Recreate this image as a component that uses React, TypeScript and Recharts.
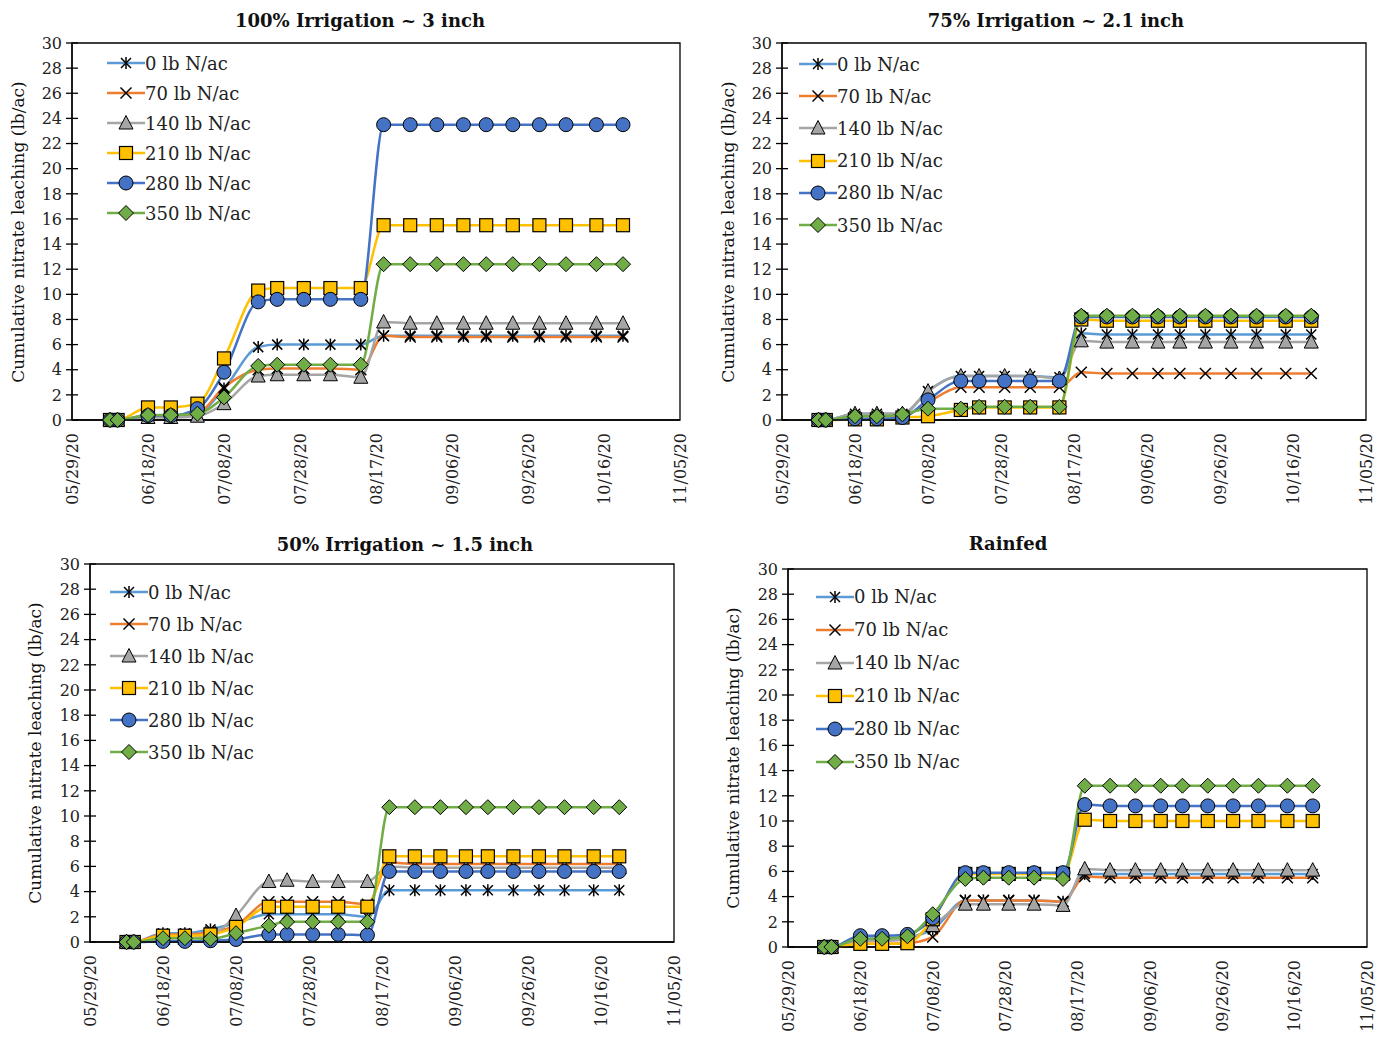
import { Line, LineChart, ReferenceArea, XAxis, YAxis } from 'recharts';

// sampling days, counted from 05/29/20
const DAYS = [10, 12, 20, 26, 33, 40, 49, 54, 61, 68, 76, 82, 89, 96, 103, 109, 116, 123, 130, 138, 145];
const X_TICKS = [0, 20, 40, 60, 80, 100, 120, 140, 160];
const Y_TICKS = [0, 2, 4, 6, 8, 10, 12, 14, 16, 18, 20, 22, 24, 26, 28, 30];

// 100% irrigation
const IRR100_N0 = [0, 0, 0.3, 0.3, 0.5, 2.5, 5.8, 6.0, 6.0, 6.0, 6.0, 6.7, 6.7, 6.7, 6.7, 6.7, 6.7, 6.7, 6.7, 6.7, 6.7];
const IRR100_N70 = [0, 0, 0.25, 0.25, 0.5, 2.6, 4.0, 4.1, 4.1, 4.1, 4.0, 6.7, 6.6, 6.6, 6.6, 6.6, 6.6, 6.6, 6.6, 6.6, 6.6];
const IRR100_N140 = [0, 0, 0.2, 0.2, 0.3, 1.3, 3.5, 3.6, 3.6, 3.6, 3.4, 7.8, 7.7, 7.7, 7.7, 7.7, 7.7, 7.7, 7.7, 7.7, 7.7];
const IRR100_N210 = [0, 0, 1.0, 1.0, 1.3, 4.9, 10.3, 10.5, 10.5, 10.5, 10.5, 15.5, 15.5, 15.5, 15.5, 15.5, 15.5, 15.5, 15.5, 15.5, 15.5];
const IRR100_N280 = [0, 0, 0.35, 0.35, 0.9, 3.8, 9.4, 9.6, 9.6, 9.6, 9.6, 23.5, 23.5, 23.5, 23.5, 23.5, 23.5, 23.5, 23.5, 23.5, 23.5];
const IRR100_N350 = [0, 0, 0.4, 0.4, 0.5, 1.8, 4.3, 4.4, 4.4, 4.4, 4.4, 12.4, 12.4, 12.4, 12.4, 12.4, 12.4, 12.4, 12.4, 12.4, 12.4];

// 75% irrigation
const IRR75_N0 = [0, 0, 0.5, 0.5, 0.5, 2.3, 3.5, 3.5, 3.5, 3.5, 3.4, 6.9, 6.8, 6.8, 6.8, 6.8, 6.8, 6.8, 6.8, 6.8, 6.8];
const IRR75_N70 = [0, 0, 0.3, 0.3, 0.3, 1.4, 2.6, 2.6, 2.6, 2.6, 2.6, 3.8, 3.7, 3.7, 3.7, 3.7, 3.7, 3.7, 3.7, 3.7, 3.7];
const IRR75_N140 = [0, 0, 0.5, 0.5, 0.5, 2.3, 3.5, 3.5, 3.5, 3.5, 3.3, 6.3, 6.2, 6.2, 6.2, 6.2, 6.2, 6.2, 6.2, 6.2, 6.2];
const IRR75_N210 = [0, 0, 0.05, 0.05, 0.2, 0.3, 0.8, 1.0, 1.0, 1.0, 1.0, 8.0, 7.9, 7.9, 7.9, 7.9, 7.9, 7.9, 7.9, 7.9, 7.9];
const IRR75_N280 = [0, 0, 0.1, 0.1, 0.2, 1.6, 3.1, 3.1, 3.1, 3.1, 3.1, 8.2, 8.2, 8.2, 8.2, 8.2, 8.2, 8.2, 8.2, 8.2, 8.2];
const IRR75_N350 = [0, 0, 0.3, 0.3, 0.45, 0.9, 0.9, 1.05, 1.05, 1.05, 1.05, 8.3, 8.3, 8.3, 8.3, 8.3, 8.3, 8.3, 8.3, 8.3, 8.3];

// 50% irrigation
const IRR50_N0 = [0, 0, 0.7, 0.7, 1.0, 1.5, 2.2, 2.2, 2.2, 2.2, 2.0, 4.1, 4.1, 4.1, 4.1, 4.1, 4.1, 4.1, 4.1, 4.1, 4.1];
const IRR50_N70 = [0, 0, 0.6, 0.6, 0.8, 1.3, 3.2, 3.2, 3.2, 3.2, 3.0, 6.3, 6.2, 6.2, 6.2, 6.2, 6.2, 6.2, 6.2, 6.2, 6.2];
const IRR50_N140 = [0, 0, 0.3, 0.3, 0.5, 2.1, 4.8, 4.9, 4.8, 4.8, 4.8, 6.0, 5.9, 5.9, 5.9, 5.9, 5.9, 5.9, 5.9, 5.9, 5.9];
const IRR50_N210 = [0, 0, 0.5, 0.5, 0.6, 1.2, 2.8, 2.8, 2.8, 2.8, 2.8, 6.8, 6.8, 6.8, 6.8, 6.8, 6.8, 6.8, 6.8, 6.8, 6.8];
const IRR50_N280 = [0, 0, 0.05, 0.05, 0.1, 0.2, 0.6, 0.6, 0.6, 0.6, 0.55, 5.6, 5.6, 5.6, 5.6, 5.6, 5.6, 5.6, 5.6, 5.6, 5.6];
const IRR50_N350 = [0, 0, 0.3, 0.3, 0.25, 0.7, 1.3, 1.6, 1.6, 1.6, 1.6, 10.7, 10.7, 10.7, 10.7, 10.7, 10.7, 10.7, 10.7, 10.7, 10.7];

// rainfed
const RAIN_N0 = [0, 0, 0.65, 0.7, 0.8, 1.4, 3.7, 3.7, 3.7, 3.7, 3.6, 5.8, 5.8, 5.8, 5.8, 5.8, 5.8, 5.8, 5.8, 5.8, 5.8];
const RAIN_N70 = [0, 0, 0.25, 0.25, 0.3, 0.8, 3.7, 3.7, 3.7, 3.7, 3.6, 5.6, 5.5, 5.5, 5.5, 5.5, 5.5, 5.5, 5.5, 5.5, 5.5];
const RAIN_N140 = [0, 0, 0.5, 0.5, 0.6, 1.7, 3.4, 3.4, 3.4, 3.4, 3.3, 6.2, 6.1, 6.1, 6.1, 6.1, 6.1, 6.1, 6.1, 6.1, 6.1];
const RAIN_N210 = [0, 0, 0.25, 0.25, 0.3, 2.2, 5.8, 5.8, 5.8, 5.8, 5.8, 10.1, 10.0, 10.0, 10.0, 10.0, 10.0, 10.0, 10.0, 10.0, 10.0];
const RAIN_N280 = [0, 0, 0.9, 0.9, 1.0, 2.3, 5.9, 5.9, 5.9, 5.9, 5.9, 11.3, 11.2, 11.2, 11.2, 11.2, 11.2, 11.2, 11.2, 11.2, 11.2];
const RAIN_N350 = [0, 0, 0.65, 0.65, 0.85, 2.6, 5.4, 5.5, 5.5, 5.5, 5.4, 12.8, 12.8, 12.8, 12.8, 12.8, 12.8, 12.8, 12.8, 12.8, 12.8];

const FONT = '"DejaVu Serif", "Liberation Serif", serif';
const START = Date.UTC(2020, 4, 29);

type Shape = 'asterisk' | 'x' | 'triangle' | 'square' | 'circle' | 'diamond';

const SERIES: Array<{ key: string; label: string; color: string; shape: Shape }> = [
  { key: 'n0', label: '0 lb N/ac', color: '#5B9BD5', shape: 'asterisk' },
  { key: 'n70', label: '70 lb N/ac', color: '#ED7D31', shape: 'x' },
  { key: 'n140', label: '140 lb N/ac', color: '#A5A5A5', shape: 'triangle' },
  { key: 'n210', label: '210 lb N/ac', color: '#FFC000', shape: 'square' },
  { key: 'n280', label: '280 lb N/ac', color: '#4472C4', shape: 'circle' },
  { key: 'n350', label: '350 lb N/ac', color: '#70AD47', shape: 'diamond' },
];

const PANELS = [
  {
    title: '100% Irrigation ~ 3 inch',
    values: [IRR100_N0, IRR100_N70, IRR100_N140, IRR100_N210, IRR100_N280, IRR100_N350],
    box: { left: 0, top: 0, width: 700, height: 530 },
    margin: { top: 43, right: 20, left: 12, bottom: 10 },
    xHeight: 100,
    titleAt: { x: 360, y: 20 },
    yLabelAt: { x: 18, y: 232 },
    legend: { left: 107, top: 48, row: 30 },
  },
  {
    title: '75% Irrigation ~ 2.1 inch',
    values: [IRR75_N0, IRR75_N70, IRR75_N140, IRR75_N210, IRR75_N280, IRR75_N350],
    box: { left: 700, top: 0, width: 690, height: 530 },
    margin: { top: 43, right: 24, left: 22, bottom: 10 },
    xHeight: 100,
    titleAt: { x: 1056, y: 20 },
    yLabelAt: { x: 728, y: 232 },
    legend: { left: 799, top: 48, row: 32.2 },
  },
  {
    title: '50% Irrigation ~ 1.5 inch',
    values: [IRR50_N0, IRR50_N70, IRR50_N140, IRR50_N210, IRR50_N280, IRR50_N350],
    box: { left: 0, top: 520, width: 690, height: 530 },
    margin: { top: 44, right: 16, left: 30, bottom: 8 },
    xHeight: 100,
    titleAt: { x: 405, y: 544 },
    yLabelAt: { x: 35, y: 753 },
    legend: { left: 110, top: 576, row: 32 },
  },
  {
    title: 'Rainfed',
    values: [RAIN_N0, RAIN_N70, RAIN_N140, RAIN_N210, RAIN_N280, RAIN_N350],
    box: { left: 700, top: 520, width: 692, height: 525 },
    margin: { top: 49, right: 25, left: 28, bottom: 0 },
    xHeight: 98,
    titleAt: { x: 1008, y: 543 },
    yLabelAt: { x: 733, y: 758 },
    legend: { left: 816, top: 580, row: 33 },
  },
];

const fmtDate = (d: number) => {
  const dt = new Date(START + d * 86400000);
  const mm = String(dt.getUTCMonth() + 1).padStart(2, '0');
  const dd = String(dt.getUTCDate()).padStart(2, '0');
  return `${mm}/${dd}/20`;
};

function Marker({ shape, cx, cy, color }: { shape: Shape; cx: number; cy: number; color: string }) {
  const s = 6.5;
  switch (shape) {
    case 'asterisk':
      return (
        <g stroke="#000" strokeWidth={1.5}>
          <line x1={cx - 5} y1={cy - 5} x2={cx + 5} y2={cy + 5} />
          <line x1={cx - 5} y1={cy + 5} x2={cx + 5} y2={cy - 5} />
          <line x1={cx} y1={cy - 6} x2={cx} y2={cy + 6} />
        </g>
      );
    case 'x':
      return (
        <g stroke="#000" strokeWidth={1.5}>
          <line x1={cx - 5.5} y1={cy - 5.5} x2={cx + 5.5} y2={cy + 5.5} />
          <line x1={cx - 5.5} y1={cy + 5.5} x2={cx + 5.5} y2={cy - 5.5} />
        </g>
      );
    case 'triangle':
      return (
        <polygon
          points={`${cx},${cy - 7.5} ${cx - 7},${cy + 6} ${cx + 7},${cy + 6}`}
          fill={color}
          stroke="#000"
          strokeWidth={1}
        />
      );
    case 'square':
      return <rect x={cx - s} y={cy - s} width={s * 2} height={s * 2} fill={color} stroke="#000" strokeWidth={1.2} />;
    case 'circle':
      return <circle cx={cx} cy={cy} r={7} fill={color} stroke="#000" strokeWidth={1} />;
    default:
      return (
        <polygon
          points={`${cx},${cy - 7.5} ${cx + 7.5},${cy} ${cx},${cy + 7.5} ${cx - 7.5},${cy}`}
          fill={color}
          stroke="#000"
          strokeWidth={1}
        />
      );
  }
}

const YTick = ({ x, y, payload }: any) => (
  <g>
    <line x1={x - 6} x2={x + 6} y1={y} y2={y} stroke="#000" strokeWidth={1.3} />
    <text x={x - 10} y={y} dy="0.36em" textAnchor="end" fontSize={16} fontFamily={FONT} fill="#222">
      {payload.value}
    </text>
  </g>
);

const XTick = ({ x, y, payload }: any) => (
  <text
    transform={`translate(${x},${y + 13}) rotate(-90)`}
    dy="0.36em"
    textAnchor="end"
    fontSize={16}
    fontFamily={FONT}
    fill="#222"
  >
    {fmtDate(payload.value)}
  </text>
);

function Panel({ panel }: { panel: (typeof PANELS)[number] }) {
  const data = DAYS.map((day, i) => {
    const row: Record<string, number> = { day };
    SERIES.forEach((s, j) => {
      row[s.key] = panel.values[j][i];
    });
    return row;
  });

  return (
    <>
      <div style={{ position: 'absolute', left: panel.box.left, top: panel.box.top }}>
        <LineChart width={panel.box.width} height={panel.box.height} data={data} margin={panel.margin}>
          <XAxis
            dataKey="day"
            type="number"
            domain={[0, 160]}
            ticks={X_TICKS}
            interval={0}
            height={panel.xHeight}
            tickSize={0}
            tickMargin={0}
            tickLine={false}
            tick={<XTick />}
            axisLine={{ stroke: '#000', strokeWidth: 1.3 }}
          />
          <YAxis
            type="number"
            domain={[0, 30]}
            ticks={Y_TICKS}
            interval={0}
            width={60}
            tickSize={0}
            tickMargin={0}
            tickLine={false}
            tick={<YTick />}
            axisLine={{ stroke: '#000', strokeWidth: 1.3 }}
          />
          {/* plot-area frame */}
          <ReferenceArea x1={0} x2={160} y1={0} y2={30} fill="none" fillOpacity={0} stroke="#000" strokeWidth={1.3} />
          {SERIES.map((s) => (
            <Line
              key={s.key}
              type="monotone"
              dataKey={s.key}
              stroke={s.color}
              strokeWidth={2.5}
              isAnimationActive={false}
              activeDot={false}
              dot={(p: any) => (
                <Marker key={`${s.key}-${p.index}`} shape={s.shape} cx={p.cx} cy={p.cy} color={s.color} />
              )}
            />
          ))}
        </LineChart>
      </div>
      <div
        style={{
          position: 'absolute',
          left: panel.titleAt.x,
          top: panel.titleAt.y,
          transform: 'translate(-50%, -50%)',
          fontFamily: FONT,
          fontWeight: 'bold',
          fontSize: 18,
          whiteSpace: 'nowrap',
          color: '#111',
        }}
      >
        {panel.title}
      </div>
      <div
        style={{
          position: 'absolute',
          left: panel.yLabelAt.x,
          top: panel.yLabelAt.y,
          transform: 'translate(-50%, -50%) rotate(-90deg)',
          fontFamily: FONT,
          fontSize: 17,
          whiteSpace: 'nowrap',
          color: '#111',
        }}
      >
        Cumulative nitrate leaching (lb/ac)
      </div>
      <div style={{ position: 'absolute', left: panel.legend.left, top: panel.legend.top }}>
        {SERIES.map((s) => (
          <div
            key={s.key}
            style={{ display: 'flex', alignItems: 'center', height: panel.legend.row, fontFamily: FONT, fontSize: 18, color: '#222' }}
          >
            <svg width={38} height={20} style={{ display: 'block' }}>
              <line x1={0} x2={38} y1={10} y2={10} stroke={s.color} strokeWidth={2.5} />
              <Marker shape={s.shape} cx={19} cy={10} color={s.color} />
            </svg>
            <span style={{ whiteSpace: 'nowrap' }}>{s.label}</span>
          </div>
        ))}
      </div>
    </>
  );
}

export default function App() {
  return (
    <div style={{ position: 'absolute', left: 0, top: 0, width: 1392, height: 1045, background: '#fff' }}>
      {PANELS.map((p) => (
        <Panel key={p.title} panel={p} />
      ))}
    </div>
  );
}
